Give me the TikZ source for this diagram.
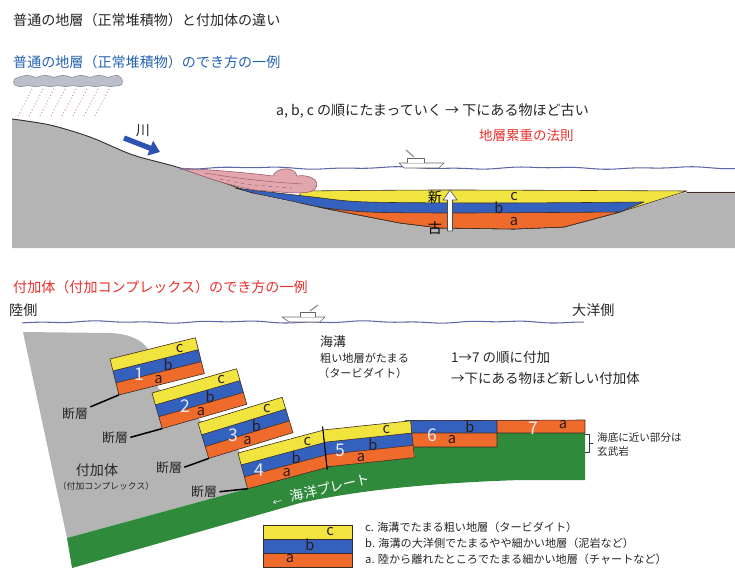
\documentclass[tikz,border=0pt]{standalone}
\usepackage{fontspec}
\setmainfont{Noto Sans CJK JP}
\usetikzlibrary{arrows.meta}

\definecolor{landgray}{HTML}{B4B4B4}
\definecolor{layerc}{HTML}{F1E43E}
\definecolor{layerb}{HTML}{3461BE}
\definecolor{layera}{HTML}{EE6B2C}
\definecolor{plate}{HTML}{2F8A3B}
\definecolor{sea}{HTML}{5D66A8}
\definecolor{mud}{HTML}{E2A7AE}
\definecolor{mudrim}{HTML}{9A5A66}
\definecolor{titleblue}{HTML}{2462B3}
\definecolor{titlered}{HTML}{EA2F2C}
\definecolor{raincol}{HTML}{C78E9E}
\definecolor{cloud}{HTML}{BBBFCA}
\definecolor{riverblue}{HTML}{2C52B2}
\definecolor{rimcol}{HTML}{3B2B22}
\definecolor{letter}{HTML}{2B1D1D}
\definecolor{nrwhite}{HTML}{E4EAF6}

\tikzset{
  txt/.style={inner sep=0pt, font=\fontsize{12}{14}\selectfont, text=black!85},
  small/.style={inner sep=0pt, font=\fontsize{9.5}{11}\selectfont, text=black!85},
  lyr/.style={inner sep=0pt, font=\fontsize{12.5}{13}\selectfont, text=letter},
  nr/.style={inner sep=0pt, font=\fontsize{15}{15}\selectfont, text=nrwhite},
  rim/.style={draw=rimcol, line width=0.5pt},
  fault/.style={line width=1.3pt, black, shorten <=2pt},
  boat/.style={fill=white, draw=black!60, line width=0.5pt},
  sealine/.style={sea, line width=0.9pt},
}

\begin{document}
\begin{tikzpicture}[x=0.03cm,y=-0.03cm,line join=round]
\useasboundingbox (0,0) rectangle (735,568);

\node[txt,anchor=west] (title) at (13,20) {普通の地層（正常堆積物）と付加体の違い};
\node[txt,anchor=west,text=titleblue] (normal) at (13,62) {普通の地層（正常堆積物）のでき方の一例};

% cloud and rain
\draw[fill=cloud,draw=cloud!75!black,line width=0.5pt]
  plot[domain=18:118,samples=61] (\x,{77.5-2*abs(sin((\x-18)*10))})
  .. controls (124,78) and (124,86) .. (118,86)
  -- plot[domain=0:100,samples=61] ({118-\x},{85.5+abs(sin(\x*12))})
  .. controls (12,86) and (12,78) .. cycle;
\foreach \rx in {32,43,...,109}
  \draw[raincol,dotted,line width=0.8pt] (\rx,89) -- (\rx-14,116);

% ground of the basin
\fill[landgray] plot[smooth] coordinates {(12,119) (50,125) (90,137) (133,155) (180,168) (253,193) (333,210) (400,223) (440,228)}
  -- (514,229) -- (564,227) -- (620,212) -- (687,192) -- (735,192) -- (735,248) -- (12,248) -- cycle;
\draw[black!80,line width=0.8pt] plot[smooth] coordinates {(12,119) (50,125) (90,137) (133,155) (180,168) (253,193)};
\draw[rimcol,line width=0.5pt] (687,192) -- (735,192);

% layers c, b, a
\filldraw[fill=layerc,rim] plot[smooth] coordinates {(300,191) (450,190) (687,191)}
  -- (620,212) -- (564,227) -- (514,229) -- (440,228) -- (400,223) -- (333,210) -- (300,203) -- cycle;
\filldraw[fill=layerb,rim] plot[smooth] coordinates {(235,188) (313,197) (367,202) (500,203) (644,202)}
  -- (620,212) -- (564,227) -- (514,229) -- (440,228) -- (400,223) -- (333,210) -- (253,193) -- cycle;
\filldraw[fill=layera,rim] plot[smooth] coordinates {(318,207) (367,212) (460,213) (620,212)}
  -- (564,227) -- (514,229) -- (440,228) -- (400,223) -- (333,210) -- cycle;

% mud from the river
\filldraw[fill=mud,draw=mudrim,line width=0.5pt] (180,168) .. controls (215,170) and (250,173) .. (273,176)
  .. controls (276,167) and (295,166) .. (297,176) .. controls (308,174) and (322,180) .. (315,189)
  .. controls (310,195) and (290,193) .. (255,190) .. controls (225,185) and (200,175) .. (180,168);
\draw[mudrim,line width=0.4pt] (205,173) .. controls (240,179) and (270,182) .. (302,184);
\draw[mudrim,line width=0.4pt,dashed] (220,179) .. controls (250,185) .. (292,188);

\draw[sealine] plot[domain=180:735,samples=120] (\x,{168+0.8*sin(\x*2.5)+0.5*sin(\x*6.1)});
\draw[boat] (399,163) -- (444,163) -- (439,168) -- (404,168) -- cycle;
\draw[boat] (407,163) -- (407,158) -- (424,158) -- (424,163);
\draw[black!45,line width=1pt] (414,157) -- (406,150);

\draw[riverblue,line width=4.5pt,-{Triangle[length=9pt,width=13pt]}] (124,138) -- (160,152);
\node[txt] (river) at (143,131) {川};

\node[txt,anchor=west] (order) at (276,111) {a, b, c の順にたまっていく → 下にある物ほど古い};
\node[txt,anchor=west,text=titlered,font=\fontsize{11.5}{13}\selectfont] (law) at (479,135) {地層累重の法則};

% young / old arrow
\filldraw[fill=white,draw=black!70,line width=0.5pt] (447.5,231) -- (447.5,200) -- (443,200) -- (450,190)
  -- (457,200) -- (452.5,200) -- (452.5,231) -- cycle;
\node[txt,text=black] (young) at (435,197) {新};
\node[txt,text=black] (old) at (435,228) {古};
\node[lyr] (topc) at (514,197) {c};
\node[lyr] (topb) at (499,208) {b};
\node[lyr] (topa) at (514,222) {a};

% accretionary wedge
\node[txt,anchor=west,text=titlered] (accr) at (13,287) {付加体（付加コンプレックス）のでき方の一例};
\node[txt,anchor=west] (land) at (9,310) {陸側};
\node[txt,anchor=west] (ocean) at (572,310) {大洋側};

\draw[sealine] plot[domain=22:584,samples=120] (\x,{322+0.7*sin(\x*2.7)+0.5*sin(\x*6.7)});
\draw[boat] (282,317) -- (325,317) -- (320,322) -- (289,322) -- cycle;
\draw[boat] (300,317) -- (300,312) -- (315,312) -- (315,317);
\draw[black!45,line width=1pt] (310,311) -- (318,305);

\fill[landgray] (23,332) -- (110,333) .. controls (130,334) and (142,340) .. (148,349) -- (158,388)
  -- (200,420) -- (240,452) -- (247.6,488.7) -- (67,538) -- cycle;
\fill[plate] (67,538) -- (247.6,488.7) -- (326.9,466.8) -- (414.4,457.6) -- (414,447) -- (497,447)
  -- (497,433) -- (585,433) -- (585,480) -- (520,480) .. controls (430,483) and (360,490) .. (300,503)
  -- (72,568) -- cycle;

% blocks 6 and 7
\fill[layerb] (405,420) rectangle (497,433);
\fill[layera] (405,433) rectangle (497,447);
\fill[layera] (497,420) rectangle (585,433);
\draw[rim] (405,447) -- (497,447) -- (497,420) (405,433) -- (585,433) (405,420.8) -- (585,420) -- (585,433);
\node[nr] (n6) at (432,435) {6};
\node[lyr] (a6) at (452,440) {a};
\node[lyr] (b6) at (470,427) {b};
\node[nr] (n7) at (533,428) {7};
\node[lyr] (a7) at (563,425) {a};

% blocks 1 to 5
\foreach \bx/\by/\ang/\nx/\lx/\num in {110/359/14/25/0/1,152/393/16/28/0/2,198/423/17/30/0/3,238/453/15/16/0/4,323/430/6/15/7/5}{
  \begin{scope}[shift={(\bx,\by)},rotate=\ang]
    \fill[layerc] (0,0) rectangle (88,12.33);
    \fill[layerb] (0,12.33) rectangle (88,24.67);
    \fill[layera] (0,24.67) rectangle (88,37);
    \draw[rim] (0,0) rectangle (88,37) (0,12.33) -- (88,12.33) (0,24.67) -- (88,24.67);
    \node[lyr] (c\num) at ({70-\lx},6.5) {c};
    \node[lyr] (b\num) at ({55-\lx},19.5) {b};
    \node[lyr] (a\num) at ({42-\lx},31.5) {a};
    \node[nr] (n\num) at (\nx,22) {\num};
    \coordinate (foot\num) at (0,37);
  \end{scope}
}
\draw[black,line width=0.9pt] (322.6,426.5) -- (327.2,470);

% faults
\node[txt,font=\fontsize{11}{12}\selectfont] (fault1) at (75,414) {断層};
\node[txt,font=\fontsize{11}{12}\selectfont] (fault2) at (115,438) {断層};
\node[txt,font=\fontsize{11}{12}\selectfont] (fault3) at (169,468) {断層};
\node[txt,font=\fontsize{11}{12}\selectfont] (fault4) at (204,492) {断層};
\draw[fault] (fault1.north east) -- (foot1);
\draw[fault] (fault2.east) -- (foot2);
\draw[fault] (fault3.east) -- (foot3);
\draw[fault] (fault4.east) -- (foot4);

\node[txt] (wedge) at (97,470) {付加体};
\node[txt,font=\fontsize{7.5}{9}\selectfont] (complex) at (106,486) {（付加コンプレックス）};
\node[txt,text=white,font=\fontsize{11.5}{13}\selectfont,rotate=13] (slab) at (321,490)
  {{\fontsize{8}{8}\selectfont ←}\hspace{8pt}海洋プレート};

\node[txt,anchor=west,font=\fontsize{11}{13}\selectfont] (trench) at (320,342) {海溝};
\node[small,anchor=west] (coarse) at (320,358) {粗い地層がたまる};
\node[small,anchor=west] (turb) at (318,373) {（タービダイト）};
\node[txt,anchor=west,font=\fontsize{11.5}{13}\selectfont] (seq) at (451,357) {1→7 の順に付加};
\node[txt,anchor=west,font=\fontsize{11.5}{13}\selectfont] (newer) at (451,378) {→下にある物ほど新しい付加体};

% basalt bracket
\draw[black!80,line width=0.6pt] (585,434) -- (589,434) -- (589,452) -- (585,452) (589,443) -- (593,443);
\node[small,anchor=west,font=\fontsize{9}{10}\selectfont] (basalt1) at (597,438) {海底に近い部分は};
\node[small,anchor=west,font=\fontsize{9}{10}\selectfont] (basalt2) at (597,452) {玄武岩};

% legend
\fill[layerc] (263,525) rectangle (352,539);
\fill[layerb] (263,539) rectangle (352,553);
\fill[layera] (263,553) rectangle (352,567);
\draw[rim] (263,525) rectangle (352,567) (263,539) -- (352,539) (263,553) -- (352,553);
\node[lyr] (legc) at (330,532) {c};
\node[lyr] (legb) at (310,545) {b};
\node[lyr] (lega) at (290,559) {a};
\node[small,anchor=west] (textc) at (365,527) {c. 海溝でたまる粗い地層（タービダイト）};
\node[small,anchor=west] (textb) at (365,543) {b. 海溝の大洋側でたまるやや細かい地層（泥岩など）};
\node[small,anchor=west] (texta) at (365,559) {a. 陸から離れたところでたまる細かい地層（チャートなど）};
\end{tikzpicture}
\end{document}
